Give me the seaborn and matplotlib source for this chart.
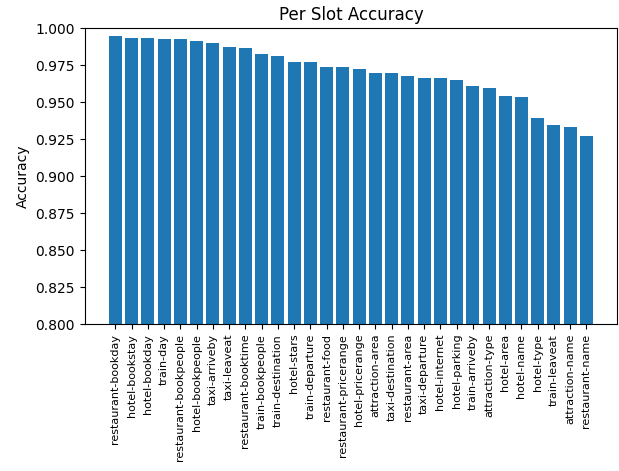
import matplotlib
matplotlib.use("Agg")
import matplotlib.pyplot as plt
import pandas as pd
import seaborn as sns

# Slot names, sorted by accuracy
slots = [
    "restaurant-bookday", "hotel-bookstay", "hotel-bookday", "train-day",
    "restaurant-bookpeople", "hotel-bookpeople", "taxi-arriveby", "taxi-leaveat",
    "restaurant-booktime", "train-bookpeople", "train-destination", "hotel-stars",
    "train-departure", "restaurant-food", "restaurant-pricerange", "hotel-pricerange",
    "attraction-area", "taxi-destination", "restaurant-area", "taxi-departure",
    "hotel-internet", "hotel-parking", "train-arriveby", "attraction-type",
    "hotel-area", "hotel-name", "hotel-type", "train-leaveat",
    "attraction-name", "restaurant-name",
]
accuracy = [
    0.9950, 0.9937, 0.9937, 0.9924, 0.9924, 0.9917, 0.9903, 0.9874,
    0.9865, 0.9824, 0.9810, 0.9775, 0.9775, 0.9736, 0.9736, 0.9723,
    0.9696, 0.9696, 0.9680, 0.9667, 0.9667, 0.9650, 0.9610, 0.9597,
    0.9545, 0.9532, 0.9390, 0.9349, 0.9333, 0.9270,
]

df = pd.DataFrame({"slot": slots, "accuracy": accuracy})

fig, ax = plt.subplots(figsize=(6.19, 4.71), dpi=100)
sns.barplot(data=df, x="slot", y="accuracy", color="#1f77b4",
            saturation=1, width=0.8, ax=ax)

# mimic matplotlib's default 5% margins around the bars
n = len(slots)
span = (n - 1) + 0.8
ax.set_xlim(-0.4 - 0.05 * span, n - 1 + 0.4 + 0.05 * span)
ax.set_ylim(0.8, 1.0)
ax.set_yticks([0.8 + 0.025 * i for i in range(9)])
ax.set_title("Per Slot Accuracy", fontsize=12)
ax.set_ylabel("Accuracy")
ax.set_xlabel("")
ax.tick_params(axis="x", labelrotation=90, labelsize=8)

plt.subplots_adjust(left=0.137, right=0.997, top=0.94, bottom=0.312)
plt.savefig("out.png")
